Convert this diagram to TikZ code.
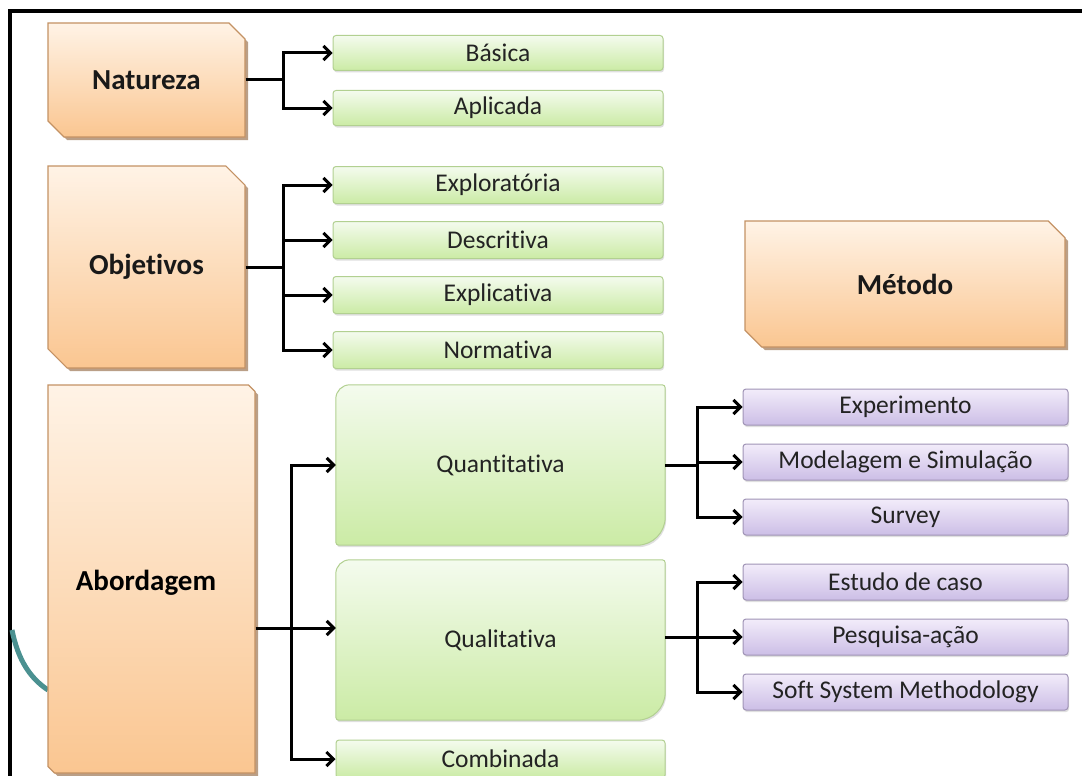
\documentclass[tikz,border=0pt]{standalone}
\usepackage{fontspec}
\setmainfont{Carlito}[Ligatures=NoCommon]
\usetikzlibrary{shapes.misc,shadows,arrows.meta,backgrounds}
\definecolor{ortop}{RGB}{255,243,230}
\definecolor{orbot}{RGB}{250,198,145}
\definecolor{oredge}{RGB}{196,146,100}
\definecolor{orshadow}{RGB}{140,95,55}
\definecolor{grtop}{RGB}{244,251,238}
\definecolor{grbot}{RGB}{203,235,165}
\definecolor{gredge}{RGB}{178,208,145}
\definecolor{putop}{RGB}{242,236,250}
\definecolor{pubot}{RGB}{204,190,230}
\definecolor{puedge}{RGB}{160,148,182}
\definecolor{teal1}{RGB}{75,145,145}
\definecolor{txt}{RGB}{35,35,35}
\tikzset{
  orangebox/.style={chamfered rectangle, chamfered rectangle corners={north east,south west},
    chamfered rectangle xsep=18pt, draw=oredge, line width=1.2pt,
    top color=ortop, bottom color=orbot, text=black!90,
    font=\bfseries\fontsize{29}{31}\selectfont,
    drop shadow={shadow xshift=3pt, shadow yshift=-3pt, fill=orshadow, opacity=0.6}},
  greenbox/.style={rectangle, rounded corners=3pt, draw=gredge, line width=1pt,
    top color=grtop, bottom color=grbot, minimum width=330, minimum height=35,
    text=txt, font=\fontsize{25.5}{27}\selectfont,
    drop shadow={shadow xshift=1pt, shadow yshift=-2pt, opacity=0.25}},
  purplebox/.style={rectangle, rounded corners=3pt, draw=puedge, line width=1pt,
    top color=putop, bottom color=pubot, minimum width=325, minimum height=36,
    text=txt, font=\fontsize{25.5}{27}\selectfont,
    drop shadow={shadow xshift=1pt, shadow yshift=-2pt, opacity=0.25}},
  bigtext/.style={rectangle, minimum width=329, minimum height=160,
    text=txt, font=\fontsize{25.5}{27}\selectfont},
  bigfill/.style={draw=gredge, line width=1pt, top color=grtop, bottom color=grbot,
    drop shadow={shadow xshift=1pt, shadow yshift=-2pt, opacity=0.25}},
  conn/.style={line width=3pt, black},
  arr/.style={conn, -{Straight Barb[length=7pt,width=14pt]}},
}
\pgfdeclarelayer{bg}
\pgfsetlayers{bg,main}
\begin{document}
\begin{tikzpicture}[x=1pt,y=-1pt]
\useasboundingbox (0,0) rectangle (1082,776);
\begin{pgfonlayer}{bg}
\fill[white] (0,0) rectangle (1082,776);
\end{pgfonlayer}
% frame
\draw[line width=4pt] (10,776) -- (10,11) -- (1082,11);
% teal arc
\draw[teal1, line width=5pt] (12,630) .. controls (18,660) and (30,678) .. (48,690);

% orange boxes
\node[orangebox, minimum width=197, minimum height=114] (nat) at (146.5,80) {Natureza};
\node[orangebox, minimum width=197, minimum height=202] (obj) at (146.5,267) {Objetivos};
\node[orangebox, minimum width=207, minimum height=388, chamfered rectangle xsep=30pt] (abo) at (151.5,579) {};
\node[font=\bfseries\fontsize{29}{31}\selectfont] (abot) at (146,583) {Abordagem};
\node[orangebox, minimum width=320, minimum height=126] (met) at (905,284) {Método};

% green boxes
\node[greenbox] (bas) at (498,53) {Básica};
\node[greenbox] (apl) at (498,108) {Aplicada};
\node[greenbox, minimum height=37] (expl) at (498,185) {Exploratória};
\node[greenbox, minimum height=37] (desc) at (498,240) {Descritiva};
\node[greenbox, minimum height=37] (expc) at (498,295) {Explicativa};
\node[greenbox, minimum height=37] (norm) at (498,350) {Normativa};

% big green boxes
\node[bigtext] (quan) at (500.5,465) {Quantitativa};
\node[bigtext] (qual) at (500.5,640) {Qualitativa};
\begin{pgfonlayer}{bg}
\path[bigfill] (quan.south west) [rounded corners=14pt] -- (quan.north west) [rounded corners=3pt] -- (quan.north east) [rounded corners=28pt] -- (quan.south east) [rounded corners=3pt] -- cycle;
\path[bigfill] (qual.south west) [rounded corners=14pt] -- (qual.north west) [rounded corners=3pt] -- (qual.north east) [rounded corners=28pt] -- (qual.south east) [rounded corners=3pt] -- cycle;
\end{pgfonlayer}
\node[greenbox, minimum width=329, minimum height=38] (comb) at (500.5,759) {Combinada};

% purple boxes
\node[purplebox] (e1) at (905.5,407) {Experimento};
\node[purplebox] (e2) at (905.5,462) {Modelagem e Simulação};
\node[purplebox] (e3) at (905.5,517) {Survey};
\node[purplebox] (e4) at (905.5,582) {Estudo de caso};
\node[purplebox] (e5) at (905.5,637) {Pesquisa-ação};
\node[purplebox] (e6) at (905.5,692) {Soft System Methodology};

% buses
\coordinate (natbus) at (283,0);
\coordinate (abobus) at (291,0);
\coordinate (mbus) at (697,0);
\coordinate (qa) at ([yshift=12pt]qual.west);

\draw[arr] (nat.east) -- (natbus |- nat.east) |- (bas.west);
\draw[arr] (natbus |- nat.east) |- (apl.west);

\draw[arr] (obj.east) -- (natbus |- obj.east) |- (expl.west);
\draw[arr] (natbus |- obj.east) |- (desc.west);
\draw[arr] (natbus |- obj.east) |- (expc.west);
\draw[arr] (natbus |- obj.east) |- (norm.west);

\draw[arr] (abo.east |- qa) -- (qa);
\draw[arr] (abobus |- qa) |- (quan.west);
\draw[arr] (abobus |- qa) |- (comb.west);

\draw[arr] (quan.east) -- (mbus |- quan.east) |- (e1.west);
\draw[arr] (mbus |- quan.east) |- (e2.west);
\draw[arr] (mbus |- quan.east) |- (e3.west);

\draw[arr] (qual.east |- e5.west) -- (e5.west);
\draw[arr] (mbus |- e5.west) |- (e4.west);
\draw[arr] (mbus |- e5.west) |- (e6.west);
\end{tikzpicture}
\end{document}
